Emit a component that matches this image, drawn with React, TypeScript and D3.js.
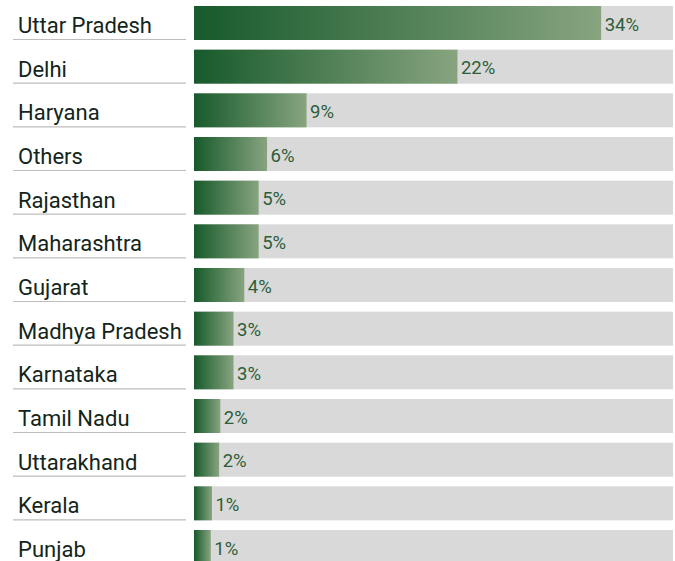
import React from "react";
import * as d3 from "d3";

const categories = [
  "Uttar Pradesh", "Delhi", "Haryana", "Others", "Rajasthan", "Maharashtra",
  "Gujarat", "Madhya Pradesh", "Karnataka", "Tamil Nadu", "Uttarakhand", "Kerala", "Punjab",
];
const values = [34, 22, 9.4, 6.1, 5.4, 5.4, 4.2, 3.3, 3.3, 2.2, 2.1, 1.5, 1.4];
const valueLabels = ["34%", "22%", "9%", "6%", "5%", "5%", "4%", "3%", "3%", "2%", "2%", "1%", "1%"];
const maxValue = 40;

const W = 675;
const H = 561;

export default function App() {
  const x = d3.scaleLinear().domain([0, maxValue]).range([194, 673]);
  const y = d3.scaleBand<string>().domain(categories).range([6, 564]).paddingInner(0.2214).paddingOuter(0);
  const bw = y.bandwidth();
  return (
    <svg width={W} height={H} style={{ position: "absolute", left: 0, top: 0, background: "#fff" }}>
      <defs>
        <linearGradient id="barGrad" x1="0" x2="1" y1="0" y2="0">
          <stop offset="0%" stopColor="#175a2b" />
          <stop offset="100%" stopColor="#87a47f" />
        </linearGradient>
      </defs>
      {categories.map((c, i) => {
        const top = y(c)!;
        return (
          <g key={c}>
            <text x={18} y={top + 27} fontFamily="Roboto, sans-serif" fontSize={22} fill="#13251a">{c}</text>
            <line x1={13} x2={186} y1={top + 33.5} y2={top + 33.5} stroke="#bdbdbd" strokeWidth={1.2} />
            <rect x={x(0)} y={top} width={x(maxValue) - x(0)} height={bw} fill="#d9d9d9" />
            <rect x={x(0)} y={top} width={x(values[i]) - x(0)} height={bw} fill="url(#barGrad)" />
            <text x={x(values[i]) + 3.5} y={top + 24.5} fontFamily="Roboto, sans-serif" fontSize={18.5} fill="#2c5e3a">{valueLabels[i]}</text>
          </g>
        );
      })}
    </svg>
  );
}
